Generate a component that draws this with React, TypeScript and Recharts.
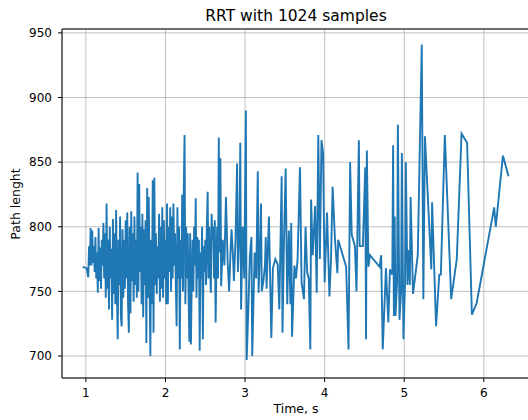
import React from 'react';
import { LineChart, Line, XAxis, YAxis, CartesianGrid, ReferenceLine } from 'recharts';

// start of the run, before the dense part
const timeStart = [0.96, 1.01, 1.03];
const lengthStart = [769, 768, 761];

// dense part, roughly one sample every 0.01 s
const timeDense = [
  1.04, 1.05, 1.06, 1.07, 1.08, 1.09, 1.1, 1.11, 1.12, 1.13,
  1.14, 1.15, 1.16, 1.17, 1.18, 1.19, 1.2, 1.21, 1.22, 1.23,
  1.24, 1.25, 1.26, 1.27, 1.28, 1.29, 1.3, 1.31, 1.32, 1.33,
  1.34, 1.35, 1.36, 1.37, 1.38, 1.39, 1.4, 1.41, 1.42, 1.43,
  1.44, 1.45, 1.46, 1.47, 1.48, 1.49, 1.5, 1.51, 1.52, 1.53,
  1.54, 1.55, 1.56, 1.57, 1.58, 1.59, 1.6, 1.61, 1.62, 1.63,
  1.64, 1.65, 1.66, 1.67, 1.68, 1.69, 1.7, 1.71, 1.72, 1.73,
  1.74, 1.75, 1.76, 1.77, 1.78, 1.79, 1.8, 1.81, 1.82, 1.83,
  1.84, 1.85, 1.86, 1.87, 1.88, 1.89, 1.9, 1.91, 1.92, 1.93,
  1.94, 1.95, 1.96, 1.97, 1.98, 1.99, 2.0, 2.01, 2.02, 2.03,
  2.04, 2.05, 2.06, 2.07, 2.08, 2.09, 2.1, 2.11, 2.12, 2.13,
  2.14, 2.15, 2.16, 2.17, 2.18, 2.19, 2.2, 2.21, 2.22, 2.23,
  2.24, 2.25, 2.26, 2.27, 2.28, 2.29, 2.3, 2.31, 2.32, 2.33,
  2.34, 2.35, 2.36, 2.37, 2.38, 2.39, 2.4, 2.41, 2.42, 2.43,
  2.44, 2.45, 2.46, 2.47, 2.48, 2.49, 2.5, 2.51, 2.52, 2.53,
  2.54, 2.55, 2.56, 2.57, 2.58, 2.59, 2.6, 2.61, 2.62, 2.63,
  2.64, 2.65, 2.66, 2.67, 2.68, 2.69, 2.7,
];
const lengthDense = [
  785, 770, 799, 770, 797, 772, 785, 765, 792, 760,
  780, 749, 799, 758, 784, 752, 790, 770, 803, 760,
  795, 745, 818, 752, 790, 736, 800, 760, 783, 728,
  806, 748, 795, 740, 813, 750, 713, 790, 755, 808,
  730, 723, 798, 745, 790, 752, 805, 760, 811, 740,
  718, 800, 733, 812, 758, 795, 742, 808, 755, 790,
  745, 842, 750, 833, 765, 800, 740, 810, 730, 798,
  755, 805, 710, 830, 745, 823, 760, 700, 790, 740,
  836, 718, 838, 755, 795, 748, 785, 760, 810, 742,
  800, 752, 815, 745, 805, 760, 790, 740, 818, 740,
  800, 765, 815, 750, 808, 760, 818, 770, 795, 755,
  723, 815, 760, 800, 705, 790, 760, 825, 750, 830,
  871, 740, 800, 760, 795, 748, 711, 795, 709, 760,
  790, 750, 800, 770, 822, 745, 792, 760, 790, 704,
  780, 760, 800, 713, 785, 765, 790, 755, 800, 827,
  760, 800, 770, 749, 810, 790, 800, 760, 805, 726,
  770, 800, 760, 869, 780, 853, 754,
];

// later, sparser samples
const timeLate = [
  2.72, 2.74, 2.76, 2.78, 2.8, 2.82, 2.83, 2.85, 2.86, 2.88,
  2.9, 2.91, 2.93, 2.94, 2.95, 2.97, 2.99, 3.01, 3.02, 3.04,
  3.06, 3.08, 3.09, 3.12, 3.14, 3.16, 3.17, 3.19, 3.2, 3.21,
  3.23, 3.25, 3.26, 3.27, 3.3, 3.33, 3.35, 3.38, 3.41, 3.43,
  3.46, 3.47, 3.49, 3.51, 3.53, 3.55, 3.57, 3.58, 3.59, 3.62,
  3.64, 3.66, 3.69, 3.71, 3.74, 3.76, 3.78, 3.8, 3.82, 3.83,
  3.85, 3.88, 3.9, 3.92, 3.94, 3.96, 3.98, 4.0, 4.03, 4.06,
  4.08, 4.1, 4.13, 4.16, 4.17, 4.27, 4.3, 4.32, 4.34, 4.38,
  4.4, 4.43, 4.44, 4.48, 4.51, 4.52, 4.53, 4.55, 4.57, 4.69,
  4.71, 4.73, 4.77, 4.8, 4.82, 4.85, 4.86, 4.87, 4.88, 4.89,
  4.91, 4.92, 4.94, 4.96, 4.97, 4.99, 5.01, 5.02, 5.04, 5.05,
  5.07, 5.08, 5.11, 5.17, 5.22, 5.24, 5.26, 5.34, 5.35, 5.4,
  5.44, 5.46, 5.51, 5.59, 5.66, 5.72, 5.79, 5.85, 5.91, 6.13,
  6.15, 6.24, 6.31,
];
const lengthLate = [
  790, 770, 823, 775, 750, 785, 798, 775, 758, 790,
  849, 765, 800, 865, 736, 800, 760, 890, 697, 734,
  777, 792, 700, 780, 760, 843, 749, 790, 818, 750,
  758, 770, 792, 752, 808, 714, 768, 775, 771, 736,
  839, 718, 792, 845, 740, 797, 740, 803, 715, 770,
  760, 775, 846, 757, 744, 800, 765, 760, 705, 821,
  778, 816, 749, 871, 775, 867, 857, 757, 811, 746,
  775, 831, 790, 764, 790, 769, 705, 850, 794, 785,
  750, 867, 785, 785, 846, 713, 859, 769, 778, 769,
  778, 705, 768, 726, 767, 763, 863, 731, 808, 731,
  757, 879, 728, 749, 857, 713, 757, 850, 755, 782,
  755, 823, 748, 778, 941, 744, 870, 767, 819, 723,
  763, 763, 871, 744, 775, 872, 865, 732, 741, 815,
  800, 855, 839,
];

const xTicks = [1, 2, 3, 4, 5, 6];
const yTicks = [700, 750, 800, 850, 900, 950];

const times = [...timeStart, ...timeDense, ...timeLate];
const lengths = [...lengthStart, ...lengthDense, ...lengthLate];
const data = times.map((t, i) => ({ t, v: lengths[i] }));

const font = 'DejaVu Sans, sans-serif';
const tickStyle = { fill: '#000', fontSize: 12, fontFamily: font };

export default function App() {
  return (
    <div
      style={{
        position: 'absolute',
        left: 0,
        top: 0,
        width: 528,
        height: 420,
        overflow: 'hidden',
        background: '#fff',
        fontFamily: font,
      }}
    >
      <LineChart width={534} height={420} data={data} margin={{ top: 29, right: 4, bottom: 0, left: 0 }}>
        <CartesianGrid stroke="#b0b0b0" strokeWidth={0.8} />
        <XAxis
          dataKey="t"
          type="number"
          domain={[0.7, 6.58]}
          ticks={xTicks}
          height={42}
          tickSize={4}
          tickMargin={6}
          tick={tickStyle}
          axisLine={{ stroke: '#000' }}
          tickLine={{ stroke: '#000' }}
          allowDataOverflow
        />
        <YAxis
          type="number"
          domain={[683, 953]}
          ticks={yTicks}
          width={62}
          tickSize={4}
          tickMargin={6}
          tick={tickStyle}
          axisLine={{ stroke: '#000' }}
          tickLine={{ stroke: '#000' }}
          allowDataOverflow
        />
        <ReferenceLine y={953} stroke="#000" />
        <Line
          type="linear"
          dataKey="v"
          stroke="#1f77b4"
          strokeWidth={1.9}
          dot={false}
          isAnimationActive={false}
        />
      </LineChart>
      <svg
        width={528}
        height={420}
        style={{ position: 'absolute', left: 0, top: 0, pointerEvents: 'none' }}
      >
        <text x={296} y={21} textAnchor="middle" fontSize={15.5} fontFamily={font} fill="#000">
          RRT with 1024 samples
        </text>
        <text x={296} y={413} textAnchor="middle" fontSize={12.5} fontFamily={font} fill="#000">
          Time, s
        </text>
        <text
          x={0}
          y={0}
          transform="translate(20 204) rotate(-90)"
          textAnchor="middle"
          fontSize={12.5}
          fontFamily={font}
          fill="#000"
        >
          Path lenght
        </text>
      </svg>
    </div>
  );
}
